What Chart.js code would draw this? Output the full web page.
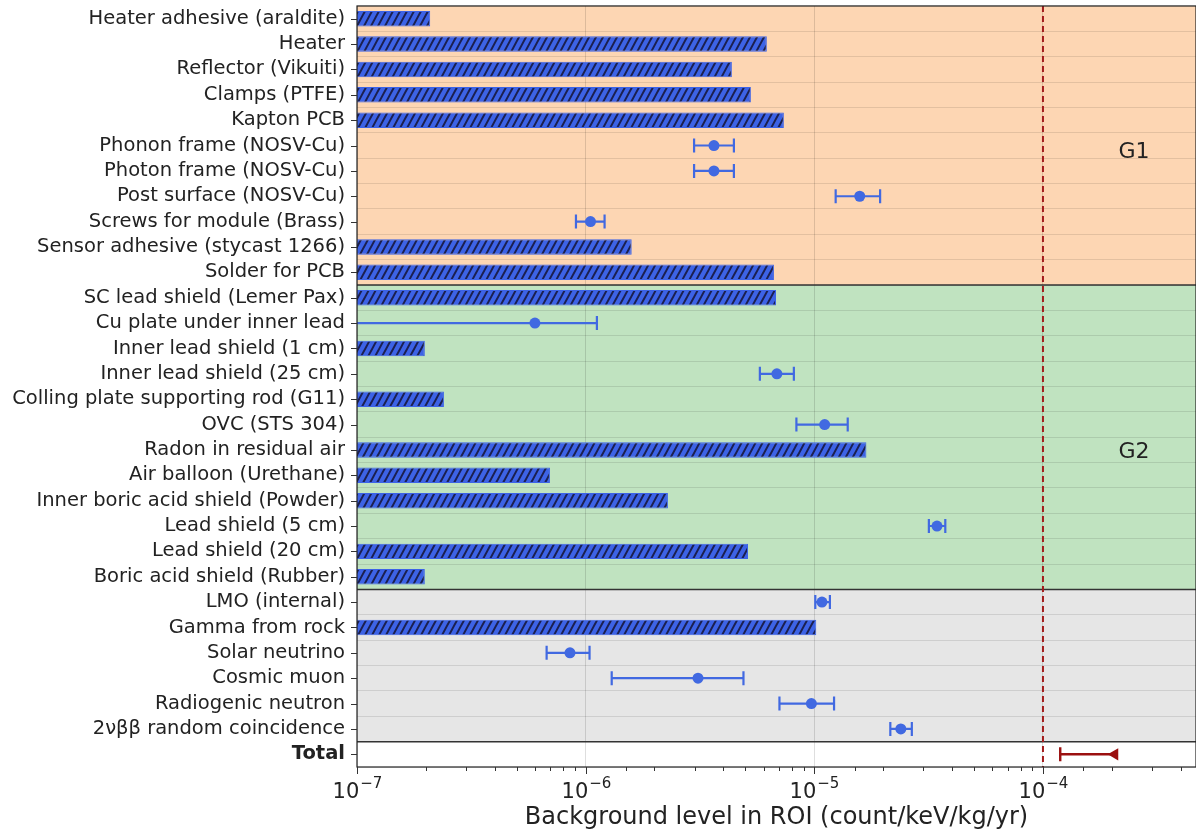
<!DOCTYPE html>
<html>
<head>
<meta charset="utf-8">
<script src="https://cdn.jsdelivr.net/npm/chart.js@4.4.0/dist/chart.umd.min.js"></script>
<style>
  html, body { margin: 0; padding: 0; background: #fff; }
  #wrap { width: 1196px; height: 832px; }
</style>
</head>
<body>
<div id="wrap"><canvas id="bg-chart" width="1196" height="832"></canvas></div>
<script>
/* ── 数据 ── */
const labels = [
    'Heater adhesive (araldite)', 'Heater', 'Reflector (Vikuiti)', 'Clamps (PTFE)', 'Kapton PCB',
    'Phonon frame (NOSV-Cu)', 'Photon frame (NOSV-Cu)', 'Post surface (NOSV-Cu)',
    'Screws for module (Brass)', 'Sensor adhesive (stycast 1266)', 'Solder for PCB',
    'SC lead shield (Lemer Pax)', 'Cu plate under inner lead', 'Inner lead shield (1 cm)',
    'Inner lead shield (25 cm)', 'Colling plate supporting rod (G11)', 'OVC (STS 304)',
    'Radon in residual air', 'Air balloon (Urethane)', 'Inner boric acid shield (Powder)',
    'Lead shield (5 cm)', 'Lead shield (20 cm)', 'Boric acid shield (Rubber)',
    'LMO (internal)', 'Gamma from rock', 'Solar neutrino', 'Cosmic muon',
    'Radiogenic neutron', '2νββ random coincidence', 'Total',
];

// 上限（斜线填充柱）
const limitValues = [
    2.09e-7, 6.2e-6, 4.36e-6, 5.28e-6, 7.36e-6,
    null, null, null, null, 1.59e-6, 6.66e-6,
    6.8e-6, null, 1.98e-7, null, 2.4e-7, null,
    1.69e-5, 6.98e-7, 2.29e-6, null, 5.13e-6, 1.98e-7,
    null, 1.02e-5, null, null, null, null, null,
];

// 测量值 + 误差范围
const measured = [
    null, null, null, null, null,
    3.64e-6, 3.64e-6, 1.58e-5, 1.05e-6, null, null,
    null, 6.0e-7, null, 6.86e-6, null, 1.11e-5,
    null, null, null, 3.44e-5, null, null,
    1.08e-5, null, 8.54e-7, 3.10e-6, 9.71e-6, 2.39e-5, null,
];
const errLow = [
    null, null, null, null, null,
    2.98e-6, 2.98e-6, 1.24e-5, 9.07e-7, null, null,
    null, 5e-8, null, 5.78e-6, null, 8.35e-6,
    null, null, null, 3.17e-5, null, null,
    1.01e-5, null, 6.75e-7, 1.30e-6, 7.04e-6, 2.15e-5, null,
];
const errHigh = [
    null, null, null, null, null,
    4.45e-6, 4.45e-6, 1.94e-5, 1.21e-6, null, null,
    null, 1.12e-6, null, 8.14e-6, null, 1.40e-5,
    null, null, null, 3.74e-5, null, null,
    1.17e-5, null, 1.04e-6, 4.90e-6, 1.22e-5, 2.67e-5, null,
];

// 总计
const totalIndex = 29;
const totalValue = 2.06e-4;
const totalLow = 1.19e-4;

// 目标线
const goalLine = 1e-4;

// 分组：起止行
const groups = [
    { name: 'G1', from: 0, to: 10, color: '#fdd6b3', labelRow: 5.25 },
    { name: 'G2', from: 11, to: 22, color: '#c0e3c0', labelRow: 17.1 },
    { name: '', from: 23, to: 28, color: '#e6e6e6', labelRow: null },
];
const groupLabelX = 2.5e-4;

const xMin = 1e-7;
const xMax = 4.67e-4;

/* ── 样式 ── */
const FONT = 'DejaVu Sans';
const BLUE = '#4169e1';
const DARKRED = '#9b1010';

function makeHatch() {
    // 斜线纹理：宽 7，高 13（约 62°）
    const w = 7, h = 13;
    const c = document.createElement('canvas');
    c.width = w; c.height = h;
    const g = c.getContext('2d');
    g.fillStyle = '#3d63e6';
    g.fillRect(0, 0, w, h);
    g.strokeStyle = '#1b2050';
    g.lineWidth = 2;
    g.beginPath();
    [-w, 0, w].forEach(o => {
        g.moveTo(o - 1, h + 13 / 7); g.lineTo(o + w + 1, -13 / 7);
    });
    g.stroke();
    return g.createPattern(c, 'repeat');
}

const isDecade = v => Math.abs(Math.log10(v) - Math.round(Math.log10(v))) < 1e-6;

/* ── 自定义绘制 ── */
const decorPlugin = {
    id: 'decor',
    beforeDraw(chart) {
        const { ctx, chartArea: a, scales: { y } } = chart;
        ctx.save();
        ctx.fillStyle = '#fff';
        ctx.fillRect(0, 0, chart.width, chart.height);
        const half = (y.getPixelForValue(1) - y.getPixelForValue(0)) / 2;
        groups.forEach(g => {
            const top = y.getPixelForValue(g.from) - half;
            const bot = y.getPixelForValue(g.to) + half;
            ctx.fillStyle = g.color;
            ctx.fillRect(a.left, top, a.right - a.left, bot - top);
        });
        ctx.restore();
    },
    beforeDatasetsDraw(chart) {
        const { ctx, chartArea: a, scales: { x, y } } = chart;
        const half = (y.getPixelForValue(1) - y.getPixelForValue(0)) / 2;
        ctx.save();
        ctx.beginPath();
        ctx.rect(a.left, a.top, a.right - a.left, a.bottom - a.top);
        ctx.clip();

        // 分组分隔线
        ctx.strokeStyle = '#333';
        ctx.lineWidth = 1.5;
        groups.forEach(g => {
            const yy = y.getPixelForValue(g.to) + half;
            ctx.beginPath();
            ctx.moveTo(a.left, yy); ctx.lineTo(a.right, yy);
            ctx.stroke();
        });

        // 误差棒
        ctx.strokeStyle = BLUE;
        ctx.lineWidth = 2.2;
        measured.forEach((v, i) => {
            if (v == null) return;
            const yy = y.getPixelForValue(i);
            const x0 = x.getPixelForValue(errLow[i]);
            const x1 = x.getPixelForValue(errHigh[i]);
            ctx.beginPath();
            ctx.moveTo(x0, yy); ctx.lineTo(x1, yy);
            ctx.moveTo(x0, yy - 7); ctx.lineTo(x0, yy + 7);
            ctx.moveTo(x1, yy - 7); ctx.lineTo(x1, yy + 7);
            ctx.stroke();
        });

        // 总计范围
        const ty = y.getPixelForValue(totalIndex);
        const tx0 = x.getPixelForValue(totalLow);
        const tx1 = x.getPixelForValue(totalValue);
        ctx.strokeStyle = DARKRED;
        ctx.lineWidth = 2.4;
        ctx.beginPath();
        ctx.moveTo(tx0, ty); ctx.lineTo(tx1, ty);
        ctx.moveTo(tx0, ty - 7); ctx.lineTo(tx0, ty + 7);
        ctx.stroke();
        ctx.restore();
    },
    afterDatasetsDraw(chart) {
        const { ctx, chartArea: a, scales: { x, y } } = chart;
        ctx.save();
        // 目标虚线
        const gx = x.getPixelForValue(goalLine);
        ctx.strokeStyle = '#a31c1c';
        ctx.lineWidth = 2;
        ctx.setLineDash([6, 4]);
        ctx.beginPath();
        ctx.moveTo(gx, a.top); ctx.lineTo(gx, a.bottom);
        ctx.stroke();
        ctx.setLineDash([]);

        // 分组标签
        ctx.fillStyle = '#222';
        ctx.font = '22px "' + FONT + '"';
        ctx.textAlign = 'center';
        ctx.textBaseline = 'middle';
        groups.forEach(g => {
            if (!g.name) return;
            ctx.fillText(g.name, x.getPixelForValue(groupLabelX), y.getPixelForValue(g.labelRow));
        });

        // 边框
        ctx.strokeStyle = '#222';
        ctx.lineWidth = 1.2;
        ctx.strokeRect(a.left, a.top, a.right - a.left, a.bottom - a.top);

        // x 轴刻度 + 10^n 标签
        ctx.strokeStyle = '#333';
        ctx.lineWidth = 1;
        ctx.textBaseline = 'alphabetic';
        x.ticks.forEach(t => {
            const px = Math.round(x.getPixelForValue(t.value)) + 0.5;
            const major = isDecade(t.value);
            ctx.beginPath();
            ctx.moveTo(px, a.bottom); ctx.lineTo(px, a.bottom + (major ? 7 : 4));
            ctx.stroke();
            if (!major) return;
            const base = '10';
            const sup = '\u2212' + Math.abs(Math.round(Math.log10(t.value)));
            ctx.font = '21px "' + FONT + '"';
            const wb = ctx.measureText(base).width;
            ctx.font = '15px "' + FONT + '"';
            const ws = ctx.measureText(sup).width;
            const x0 = px - (wb + ws + 1) / 2;
            ctx.fillStyle = '#222';
            ctx.textAlign = 'left';
            ctx.font = '21px "' + FONT + '"';
            ctx.fillText(base, x0, a.bottom + 31);
            ctx.font = '15px "' + FONT + '"';
            ctx.fillText(sup, x0 + wb + 1, a.bottom + 21);
        });
        // y 轴刻度
        labels.forEach((_, i) => {
            const py = Math.round(y.getPixelForValue(i)) + 0.5;
            ctx.beginPath();
            ctx.moveTo(a.left - 6, py); ctx.lineTo(a.left, py);
            ctx.stroke();
        });
        ctx.restore();
    },
};

const hatch = makeHatch();

new Chart(document.getElementById('bg-chart'), {
    type: 'bar',
    data: {
        labels,
        datasets: [
            {
                type: 'bar',
                data: limitValues,
                backgroundColor: hatch,
                borderColor: '#3d63e6',
                borderWidth: 1,
                barPercentage: 0.61,
                categoryPercentage: 1,
                order: 3,
            },
            {
                type: 'line',
                data: measured,
                showLine: false,
                pointRadius: 5.5,
                pointHoverRadius: 5.5,
                pointBackgroundColor: BLUE,
                pointBorderColor: BLUE,
                pointBorderWidth: 0,
                order: 2,
            },
            {
                type: 'line',
                data: labels.map((_, i) => (i === totalIndex ? totalValue : null)),
                showLine: false,
                pointStyle: 'triangle',
                pointRotation: 270,
                pointRadius: 7,
                pointHoverRadius: 7,
                pointBackgroundColor: DARKRED,
                pointBorderColor: DARKRED,
                pointBorderWidth: 0,
                order: 1,
            },
        ],
    },
    options: {
        indexAxis: 'y',
        responsive: false,
        animation: false,
        events: [],
        layout: { autoPadding: false, padding: { top: 6, right: 0, bottom: 0, left: 0 } },
        plugins: {
            legend: { display: false },
            tooltip: { enabled: false },
        },
        scales: {
            x: {
                type: 'logarithmic',
                min: xMin,
                max: xMax,
                border: { display: false },
                grid: {
                    drawTicks: false,
                    color: c => (c.tick && isDecade(c.tick.value) ? 'rgba(0,0,0,0.13)' : 'rgba(0,0,0,0)'),
                    lineWidth: 1,
                },
                ticks: {
                    autoSkip: false,
                    maxRotation: 0,
                    padding: 9,
                    font: { family: FONT, size: 19 },
                    callback: () => '',
                },
                title: {
                    display: true,
                    text: 'Background level in ROI (count/keV/kg/yr)',
                    color: '#222',
                    font: { family: FONT, size: 24 },
                    padding: { top: 0, bottom: 0 },
                },
                afterFit: s => {
                    s.height = 65;
                    s.paddingLeft = 0; s.paddingRight = 0;
                },
            },
            y: {
                type: 'category',
                border: { display: false },
                grid: {
                    offset: true,
                    drawTicks: false,
                    color: 'rgba(0,0,0,0.1)',
                    lineWidth: 1,
                },
                ticks: {
                    padding: 12,
                    color: '#222',
                    autoSkip: false,
                    font: c => ({ family: FONT, size: 19.5, weight: c.index === totalIndex ? 'bold' : 'normal' }),
                },
                afterFit: s => {
                    s.width = 357;
                    s.paddingTop = 0; s.paddingBottom = 0;
                },
            },
        },
    },
    plugins: [decorPlugin],
});
</script>
</body>
</html>
